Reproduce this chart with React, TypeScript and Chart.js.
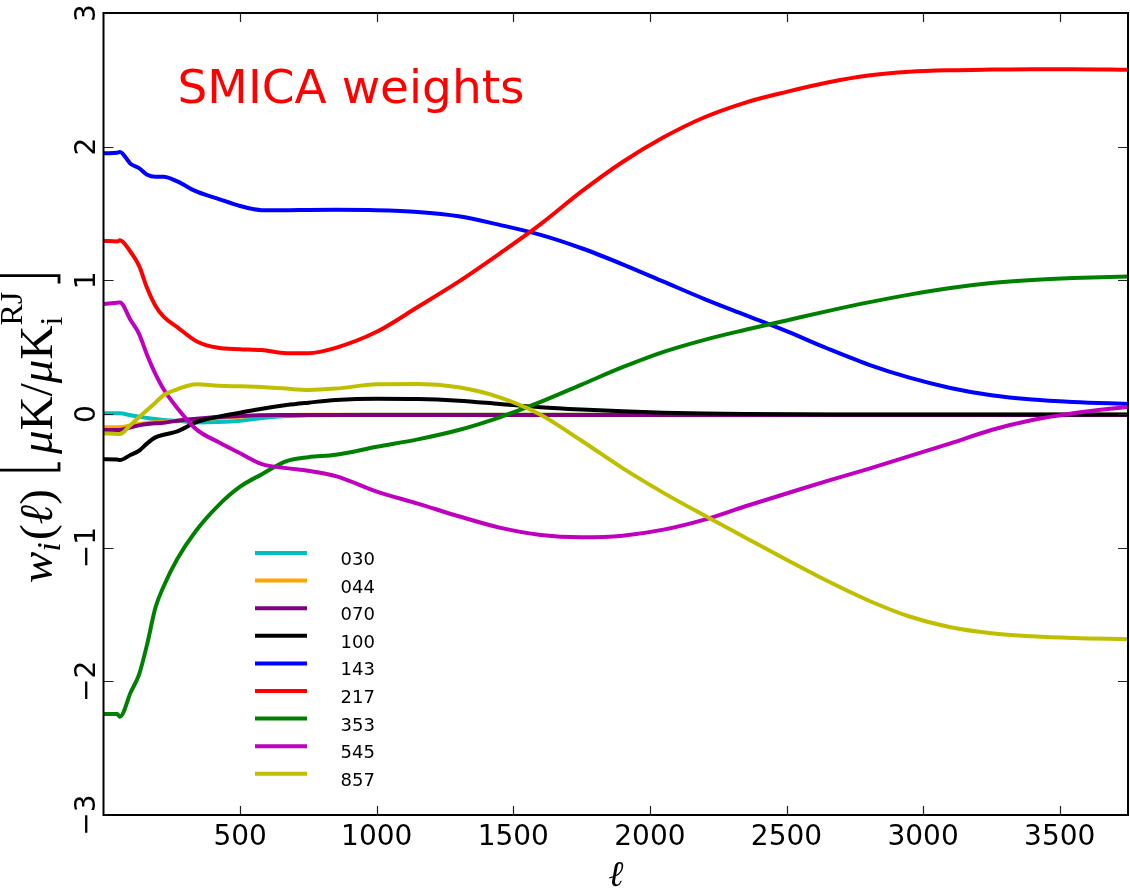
import React, { useEffect, useRef } from 'react';
import { Chart, registerables } from 'chart.js';

Chart.register(...registerables);

// multipole grid (ell) shared by every series
const ell = [2, 50, 60, 100, 130, 160, 190, 220, 270, 340, 420, 500, 580, 670, 750, 850, 1000, 1150, 1300, 1450, 1600, 1750, 1900, 2050, 2200, 2350, 2500, 2650, 2800, 2950, 3100, 3250, 3400, 3550, 3750];

const w030 = [0.005, 0.005, 0.005, -0.01, -0.02, -0.03, -0.038, -0.045, -0.05, -0.063, -0.06, -0.05, -0.03, -0.015, -0.01, -0.007, -0.006, -0.005, -0.005, -0.005, -0.005, -0.005, -0.005, -0.005, -0.005, -0.005, -0.005, -0.005, -0.005, -0.005, -0.005, -0.005, -0.005, -0.005, -0.005];
const w044 = [-0.1, -0.1, -0.1, -0.085, -0.075, -0.068, -0.062, -0.058, -0.05, -0.04, -0.03, -0.02, -0.012, -0.008, -0.006, -0.005, -0.005, -0.005, -0.005, -0.005, -0.005, -0.005, -0.005, -0.005, -0.005, -0.005, -0.005, -0.005, -0.005, -0.005, -0.005, -0.005, -0.005, -0.005, -0.005];
const w070 = [-0.12, -0.12, -0.12, -0.1, -0.085, -0.075, -0.07, -0.065, -0.05, -0.035, -0.022, -0.015, -0.01, -0.008, -0.007, -0.007, -0.007, -0.007, -0.007, -0.007, -0.007, -0.007, -0.007, -0.007, -0.007, -0.007, -0.007, -0.007, -0.007, -0.007, -0.007, -0.007, -0.007, -0.007, -0.007];
const w100 = [-0.339, -0.34, -0.345, -0.305, -0.275, -0.22, -0.175, -0.155, -0.13, -0.06, -0.02, 0.01, 0.04, 0.067, 0.085, 0.105, 0.115, 0.113, 0.1, 0.075, 0.05, 0.033, 0.02, 0.01, 0.004, 0.0, -0.002, -0.003, -0.003, -0.003, -0.003, -0.003, -0.003, -0.003, -0.003];
const w143 = [1.95, 1.955, 1.96, 1.87, 1.84, 1.79, 1.775, 1.775, 1.74, 1.665, 1.61, 1.556, 1.525, 1.525, 1.527, 1.528, 1.525, 1.512, 1.48, 1.415, 1.34, 1.24, 1.12, 0.99, 0.86, 0.74, 0.62, 0.49, 0.37, 0.272, 0.195, 0.14, 0.108, 0.09, 0.075];
const w217 = [1.296, 1.29, 1.3, 1.21, 1.11, 0.94, 0.81, 0.728, 0.65, 0.545, 0.495, 0.485, 0.478, 0.455, 0.455, 0.495, 0.615, 0.8, 0.99, 1.2, 1.42, 1.665, 1.885, 2.07, 2.22, 2.33, 2.41, 2.48, 2.532, 2.56, 2.572, 2.577, 2.58, 2.58, 2.575];
const w353 = [-2.244, -2.244, -2.265, -2.08, -1.95, -1.72, -1.45, -1.29, -1.085, -0.87, -0.685, -0.544, -0.45, -0.352, -0.323, -0.305, -0.245, -0.19, -0.12, -0.025, 0.09, 0.22, 0.35, 0.465, 0.555, 0.63, 0.7, 0.77, 0.835, 0.893, 0.943, 0.98, 1.003, 1.017, 1.028];
const w545 = [0.823, 0.833, 0.835, 0.7, 0.6, 0.44, 0.3, 0.185, 0.045, -0.115, -0.21, -0.294, -0.375, -0.405, -0.425, -0.465, -0.58, -0.67, -0.765, -0.85, -0.905, -0.922, -0.91, -0.865, -0.79, -0.69, -0.595, -0.5, -0.41, -0.315, -0.22, -0.12, -0.045, 0.005, 0.055];
const w857 = [-0.144, -0.15, -0.15, -0.08, -0.025, 0.03, 0.085, 0.14, 0.185, 0.222, 0.212, 0.207, 0.202, 0.19, 0.18, 0.19, 0.222, 0.225, 0.2, 0.125, -0.005, -0.2, -0.405, -0.59, -0.76, -0.925, -1.09, -1.25, -1.395, -1.515, -1.595, -1.64, -1.663, -1.676, -1.685];

const seriesLabels = ['030', '044', '070', '100', '143', '217', '353', '545', '857'];
const seriesColors = ['#00BFBF', '#FFA500', '#800080', '#000000', '#0000FF', '#FF0000', '#008000', '#BF00BF', '#BFBF00'];
const seriesValues = [w030, w044, w070, w100, w143, w217, w353, w545, w857];

const xMin = 0;
const xMax = 3750;
const xTickValues = [500, 1000, 1500, 2000, 2500, 3000, 3500];
const yMin = -3;
const yMax = 3;
const yTickValues = [-3, -2, -1, 0, 1, 2, 3];
const annotationText = 'SMICA weights';
const xTitle = 'ℓ';

const fmt = (v: number) => (v < 0 ? '\u2212' + Math.abs(v) : String(v));

function drawYTitle(ctx: CanvasRenderingContext2D, cx: number, cy: number, targetLen: number) {
  const fam = '"Liberation Serif", "DejaVu Serif", serif';
  const build = (S: number) => {
    const it = (s: number) => `italic ${s}px ${fam}`;
    const rm = (s: number) => `${s}px ${fam}`;
    return [
      { t: 'w', f: it(S), dy: 0 },
      { t: 'i', f: it(S * 0.7), dy: S * 0.18 },
      { t: '(', f: rm(S), dy: 0, pre: S * 0.05 },
      { t: 'ℓ', f: it(S), dy: 0 },
      { t: ')', f: rm(S), dy: 0 },
      { gap: S * 0.35 },
      { br: 'l', S },
      { gap: S * 0.12 },
      { t: 'μ', f: it(S), dy: 0 },
      { t: 'K', f: rm(S), dy: 0 },
      { t: '/', f: rm(S), dy: 0 },
      { t: 'μ', f: it(S), dy: 0 },
      { t: 'K', f: rm(S), dy: 0 },
      { stack: [{ t: 'RJ', f: rm(S * 0.68), dy: -S * 0.62 }, { t: 'i', f: rm(S * 0.68), dy: S * 0.22 }] },
      { gap: S * 0.12 },
      { br: 'r', S },
    ] as any[];
  };
  const measure = (parts: any[]) => {
    let w = 0;
    for (const p of parts) {
      if (p.gap) w += p.gap;
      else if (p.br) w += p.S * 0.28;
      else if (p.stack) {
        let m = 0;
        for (const q of p.stack) { ctx.font = q.f; m = Math.max(m, ctx.measureText(q.t).width); }
        w += m;
      } else { ctx.font = p.f; w += (p.pre || 0) + ctx.measureText(p.t).width; }
    }
    return w;
  };
  let S = 30;
  let parts = build(S);
  let W = measure(parts);
  S = S * targetLen / W;
  parts = build(S);
  W = measure(parts);
  ctx.save();
  ctx.translate(cx, cy);
  ctx.rotate(-Math.PI / 2);
  ctx.fillStyle = '#000';
  ctx.strokeStyle = '#000';
  ctx.textBaseline = 'alphabetic';
  ctx.textAlign = 'left';
  let x = -W / 2;
  for (const p of parts) {
    if (p.gap) { x += p.gap; continue; }
    if (p.br) {
      const bw = p.S * 0.28;
      const top = -p.S * 1.32;
      const bot = p.S * 0.16;
      ctx.lineWidth = Math.max(1.5, p.S * 0.06);
      ctx.beginPath();
      if (p.br === 'l') {
        ctx.moveTo(x + bw * 0.8, top); ctx.lineTo(x + bw * 0.2, top); ctx.lineTo(x + bw * 0.2, bot); ctx.lineTo(x + bw * 0.8, bot);
      } else {
        ctx.moveTo(x + bw * 0.2, top); ctx.lineTo(x + bw * 0.8, top); ctx.lineTo(x + bw * 0.8, bot); ctx.lineTo(x + bw * 0.2, bot);
      }
      ctx.stroke();
      x += bw;
      continue;
    }
    if (p.stack) {
      let m = 0;
      for (const q of p.stack) { ctx.font = q.f; ctx.fillText(q.t, x, q.dy); m = Math.max(m, ctx.measureText(q.t).width); }
      x += m;
      continue;
    }
    ctx.font = p.f;
    x += p.pre || 0;
    ctx.fillText(p.t, x, p.dy);
    x += ctx.measureText(p.t).width;
  }
  ctx.restore();
}

const decorPlugin = {
  id: 'decor',
  afterDraw(chart: any) {
    const { ctx, chartArea: a, scales } = chart;
    const xs = scales.x;
    const ys = scales.y;
    ctx.save();
    // inward tick marks on all four sides
    ctx.strokeStyle = '#222';
    ctx.lineWidth = 1.2;
    ctx.beginPath();
    for (const t of xs.ticks) {
      const px = Math.round(xs.getPixelForValue(t.value)) + 0.5;
      ctx.moveTo(px, a.bottom); ctx.lineTo(px, a.bottom - 9);
      ctx.moveTo(px, a.top); ctx.lineTo(px, a.top + 9);
    }
    for (const t of ys.ticks) {
      const py = Math.round(ys.getPixelForValue(t.value)) + 0.5;
      ctx.moveTo(a.left, py); ctx.lineTo(a.left + 10, py);
      ctx.moveTo(a.right, py); ctx.lineTo(a.right - 10, py);
    }
    ctx.stroke();
    // frame
    ctx.strokeStyle = '#000';
    ctx.lineWidth = 2;
    ctx.strokeRect(a.left, a.top, a.right - a.left, a.bottom - a.top);

    // y tick labels (rotated, matplotlib style)
    ctx.fillStyle = '#000';
    ctx.font = '28px "DejaVu Sans"';
    ctx.textAlign = 'center';
    ctx.textBaseline = 'alphabetic';
    for (const t of ys.ticks) {
      const py = ys.getPixelForValue(t.value);
      ctx.save();
      ctx.translate(a.left - 8.5, py);
      ctx.rotate(-Math.PI / 2);
      ctx.fillText(fmt(t.value), 0, 0);
      ctx.restore();
    }

    // y axis title
    drawYTitle(ctx, a.left - 52, (a.top + a.bottom) / 2 + 14, 310);

    // x axis title
    ctx.font = 'italic 36px "DejaVu Serif"';
    ctx.textAlign = 'center';
    ctx.textBaseline = 'alphabetic';
    ctx.fillText(xTitle, (a.left + a.right) / 2, 886);

    // annotation
    ctx.fillStyle = '#FF0000';
    ctx.font = '47px "DejaVu Sans"';
    ctx.textAlign = 'left';
    ctx.fillText(annotationText, a.left + 74, a.top + 90);

    // legend
    const ds = chart.data.datasets;
    ctx.font = '18px "DejaVu Sans"';
    ctx.textAlign = 'left';
    ctx.textBaseline = 'alphabetic';
    for (let i = 0; i < ds.length; i++) {
      const y = a.top + 540 + 27.6 * i;
      ctx.strokeStyle = ds[i].borderColor;
      ctx.lineWidth = 4;
      ctx.beginPath();
      ctx.moveTo(a.left + 151.5, y);
      ctx.lineTo(a.left + 203.5, y);
      ctx.stroke();
      ctx.fillStyle = '#000';
      ctx.fillText(ds[i].label, a.left + 237, y + 12);
    }
    ctx.restore();
  },
};

export default function App() {
  const ref = useRef<HTMLCanvasElement>(null);
  useEffect(() => {
    document.body.style.margin = '0';
    const canvas = ref.current;
    if (!canvas) return;
    const chart = new Chart(canvas, {
      type: 'line',
      data: {
        datasets: seriesValues.map((vals, i) => ({
          label: seriesLabels[i],
          data: ell.map((x, j) => ({ x, y: vals[j] })),
          borderColor: seriesColors[i],
          backgroundColor: seriesColors[i],
          borderWidth: 4,
          pointRadius: 0,
          fill: false,
          cubicInterpolationMode: 'monotone' as const,
          order: seriesValues.length - 1 - i,
        })),
      },
      options: {
        responsive: false,
        animation: false,
        events: [],
        layout: { padding: { top: 13, right: 2, left: 0, bottom: 0 } },
        plugins: { legend: { display: false }, tooltip: { enabled: false } },
        scales: {
          x: {
            type: 'linear',
            min: xMin,
            max: xMax,
            grid: { display: false, drawTicks: false },
            border: { display: false },
            ticks: {
              autoSkip: false,
              maxRotation: 0,
              padding: 6,
              color: '#000',
              font: { size: 28, family: '"DejaVu Sans"' },
              callback: (v: any) => String(v),
            },
            afterBuildTicks: (s: any) => { s.ticks = xTickValues.map((value) => ({ value })); },
            afterFit: (s: any) => { s.height = 75; },
          },
          y: {
            type: 'linear',
            min: yMin,
            max: yMax,
            grid: { display: false, drawTicks: false },
            border: { display: false },
            ticks: { display: false },
            afterBuildTicks: (s: any) => { s.ticks = yTickValues.map((value) => ({ value })); },
            afterFit: (s: any) => { s.width = 103.5; },
          },
        },
      },
      plugins: [decorPlugin],
    });
    return () => chart.destroy();
  }, []);
  return (
    <div style={{ width: 1130, height: 890 }}>
      <canvas ref={ref} width={1130} height={890} style={{ display: 'block' }} />
    </div>
  );
}
